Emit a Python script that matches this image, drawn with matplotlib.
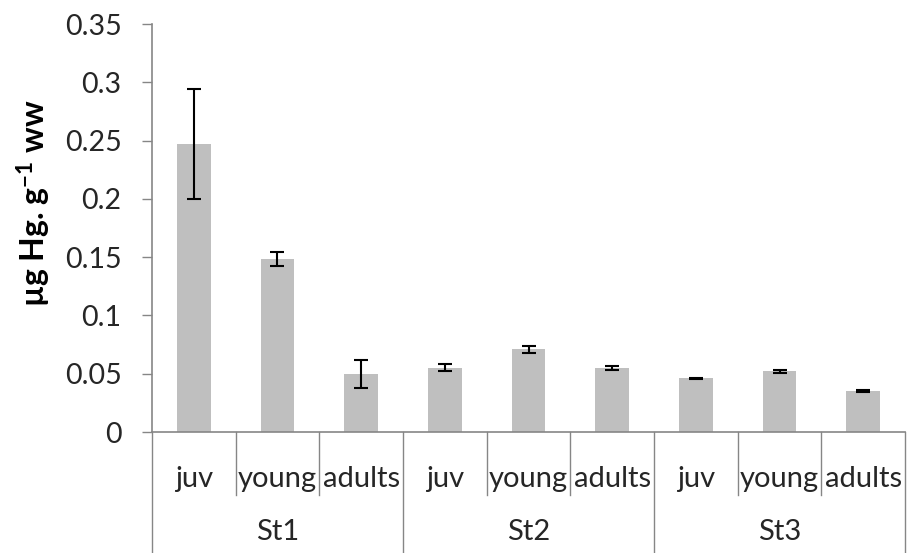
import matplotlib
matplotlib.use("Agg")
import matplotlib.pyplot as plt
import matplotlib.transforms as mtransforms
import numpy as np

plt.rcParams["font.family"] = ["Lato", "DejaVu Sans"]
plt.rcParams["mathtext.fontset"] = "custom"
plt.rcParams["mathtext.rm"] = "Lato:bold"
plt.rcParams["mathtext.default"] = "rm"

stations = ["St1", "St2", "St3"]
ages = ["juv", "young", "adults"]
means = [0.247, 0.148, 0.050,
         0.055, 0.071, 0.055,
         0.046, 0.052, 0.035]
errors = [0.047, 0.006, 0.012,
          0.003, 0.003, 0.0015,
          0.0006, 0.0015, 0.0008]

grey = "#868686"
fig = plt.figure(figsize=(9.08, 5.53), dpi=100)
ax = fig.add_axes([0.1674, 0.2188, 0.8293, 0.7378])

x = np.arange(len(means)) + 0.5
ax.bar(x, means, width=0.4, color="#BFBFBF", zorder=2)
ax.errorbar(x, means, yerr=errors, fmt="none", ecolor="black",
            elinewidth=1.5, capsize=5, capthick=1.5, zorder=3)

ax.set_xlim(0, len(means))
ax.set_ylim(0, 0.35)
yt = np.arange(0, 0.351, 0.05)
ax.set_yticks(yt)
ax.set_yticklabels(["0", "0.05", "0.1", "0.15", "0.2", "0.25", "0.3", "0.35"])
ax.tick_params(axis="y", direction="out", length=7, width=1, color=grey,
               labelsize=20.5, labelcolor="#262626", pad=15)
ax.set_xticks([])
for s in ("top", "right"):
    ax.spines[s].set_visible(False)
for s in ("left", "bottom"):
    ax.spines[s].set_color(grey)
    ax.spines[s].set_linewidth(1.2)

trans = mtransforms.blended_transform_factory(ax.transData, ax.transAxes)
# category separators
n_age = len(ages)
for i in range(len(means) + 1):
    bottom = -0.297 if i % n_age == 0 else -0.154
    ax.plot([i, i], [0, bottom], color=grey, lw=1, transform=trans, clip_on=False)
for i, xi in enumerate(x):
    ax.text(xi, -0.115, ages[i % n_age], transform=trans, ha="center", va="center",
            fontsize=21, color="#262626")
for j, st in enumerate(stations):
    ax.text(j * n_age + n_age / 2, -0.245, st, transform=trans, ha="center",
            va="center", fontsize=21, color="#262626")

ax.set_ylabel(r"µg Hg. g$^{-1}$ ww", fontsize=23, fontweight="bold", color="black")
ax.yaxis.set_label_coords(-0.132, 0.56)

fig.savefig("out.png", dpi=100)
